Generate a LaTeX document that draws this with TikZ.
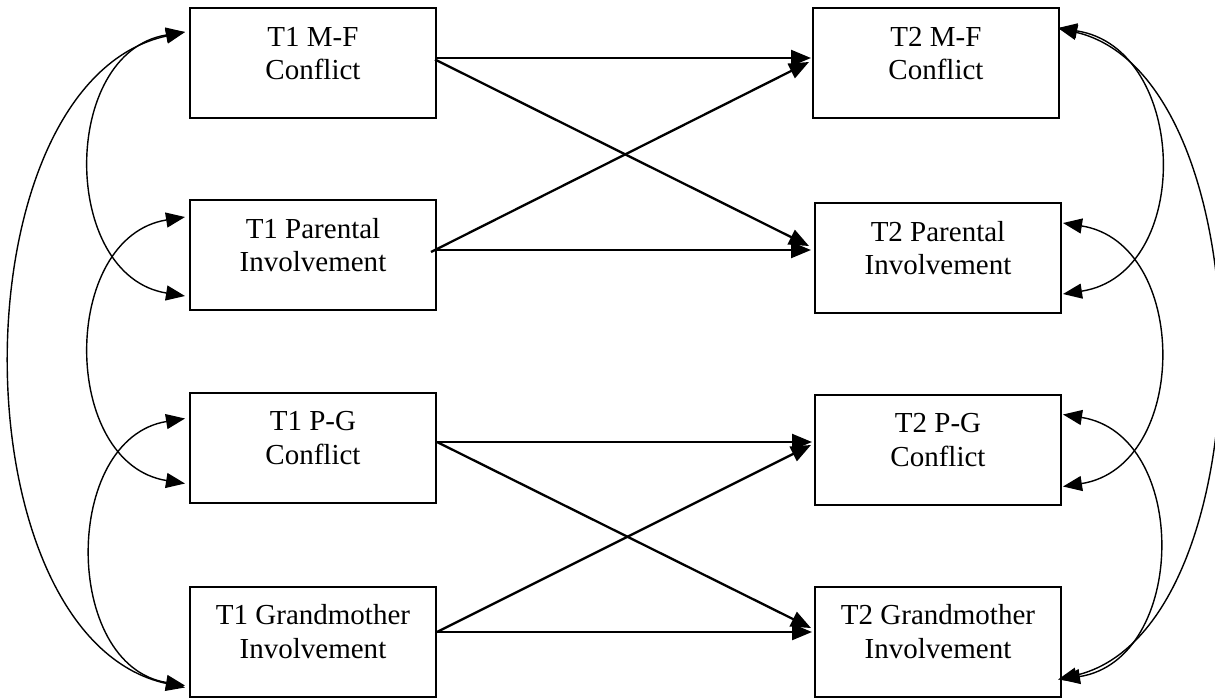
\documentclass[tikz,border=0pt]{standalone}
\usepackage{fontspec}
\setmainfont{Liberation Serif}
\usetikzlibrary{arrows.meta,calc}
\newcommand\boxlines[2]{\parbox[c][110pt][t]{246pt}{\centering\rule{0pt}{38.4pt}#1\\#2}}
\begin{document}
\begin{tikzpicture}[x=1pt,y=-1pt,
  box/.style={draw,line width=2pt,inner sep=0pt,font=\fontsize{29}{33.3}\selectfont},
  regarrow/.style={line width=2.3pt,-{Triangle[length=20pt,width=16pt]}},
  covarrow/.style={line width=1.4pt,{Triangle[length=19pt,width=15pt]}-{Triangle[length=19pt,width=15pt]}}]
\useasboundingbox (0,0) rectangle (1215,697);
% left column
\node[box] (mf1) at (313,63) {\boxlines{T1 M-F}{Conflict}};
\node[box] (pi1) at (313,255) {\boxlines{T1 Parental}{Involvement}};
\node[box] (pg1) at (313,447.5) {\boxlines{T1 P-G}{Conflict}};
\node[box] (gm1) at (313,641.5) {\boxlines{T1 Grandmother}{Involvement}};
% right column
\node[box] (mf2) at (936,63) {\boxlines{T2 M-F}{Conflict}};
\node[box] (pi2) at (938,258) {\boxlines{T2 Parental}{Involvement}};
\node[box] (pg2) at (938,449.5) {\boxlines{T2 P-G}{Conflict}};
\node[box] (gm2) at (938,641.5) {\boxlines{T2 Grandmother}{Involvement}};
% straight paths
\draw[regarrow] ([yshift=5pt]mf1.east) -- ([xshift=-1pt,yshift=5pt]mf2.west);
\draw[regarrow] ([xshift=-2pt,yshift=3.5pt]mf1.east) -- ([xshift=-5pt,yshift=12pt]pi2.west);
\draw[regarrow] ([xshift=-6pt,yshift=3pt]pi1.east) -- ([xshift=-3pt,yshift=1pt]mf2.west);
\draw[regarrow] ([yshift=5pt]pi1.east) -- ([xshift=-3pt,yshift=8pt]pi2.west);
\draw[regarrow] ([yshift=5.5pt]pg1.east) -- ([xshift=-2pt,yshift=7.5pt]pg2.west);
\draw[regarrow] ([yshift=5.5pt]pg1.east) -- ([xshift=-3pt,yshift=13.5pt]gm2.west);
\draw[regarrow] ([yshift=9.5pt]gm1.east) -- ([xshift=-3pt,yshift=4.5pt]pg2.west);
\draw[regarrow] ([yshift=9.5pt]gm1.east) -- ([xshift=-2pt,yshift=9.5pt]gm2.west);
% left covariances
\draw[covarrow] ($(mf1.north west)+(-4,25)$) .. controls +(-231,50) and +(-231,-50) .. ($(gm1.south west)+(-4,-10)$);
\draw[covarrow] ($(mf1.north west)+(-4,25)$) .. controls +(-125,20) and +(-125,-20) .. ($(pi1.south west)+(-4,-15)$);
\draw[covarrow] ($(pi1.north west)+(-4,18)$) .. controls +(-125,20) and +(-125,-20) .. ($(pg1.south west)+(-4,-20)$);
\draw[covarrow] ($(pg1.north west)+(-4,27)$) .. controls +(-123,20) and +(-123,-20) .. ($(gm1.south west)+(-4,-12)$);
% right covariances
\draw[covarrow] ($(mf2.north east)+(-2,21)$) .. controls +(211,50) and +(211,-50) .. ($(gm2.south east)+(-4,-18)$);
\draw[covarrow] ($(mf2.north east)+(-2,21)$) .. controls +(131,20) and +(131,-20) .. ($(pi2.south east)+(1,-20)$);
\draw[covarrow] ($(pi2.north east)+(1,21)$) .. controls +(127,20) and +(127,-20) .. ($(pg2.south east)+(1,-19)$);
\draw[covarrow] ($(pg2.north east)+(1,21)$) .. controls +(127,20) and +(127,-20) .. ($(gm2.south east)+(-1,-18)$);
\end{tikzpicture}
\end{document}
